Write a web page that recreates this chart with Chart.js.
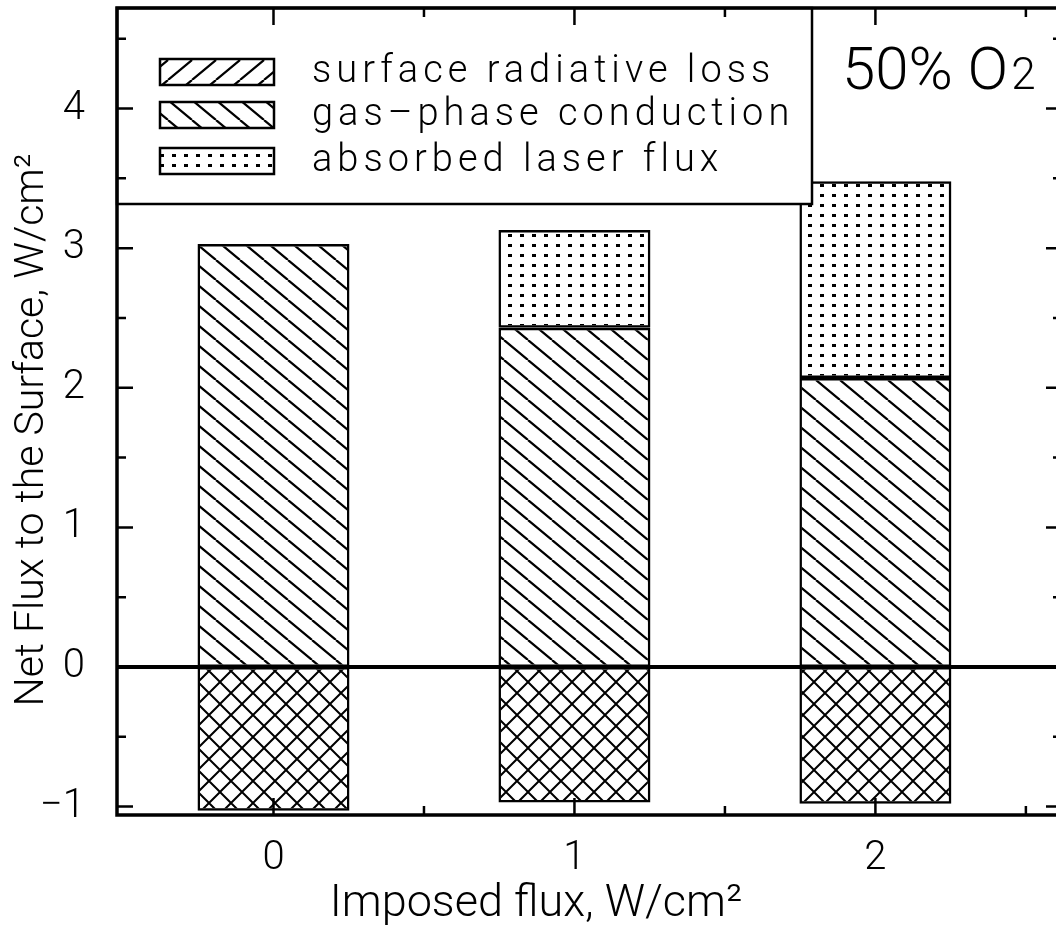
<!DOCTYPE html>
<html>
<head>
<meta charset="utf-8">
<script src="https://cdn.jsdelivr.net/npm/chart.js@4.4.1/dist/chart.umd.min.js"></script>
<style>
  html, body { margin: 0; padding: 0; background: #fff; overflow: hidden; }
  #wrap { width: 1062px; height: 930px; position: relative; }
</style>
</head>
<body>
<div id="wrap"><canvas id="fluxChart"></canvas></div>
<script>
  // values (W/cm2)
  const imposedFlux = [0, 1, 2];
  const gasConduction = [3.03, 2.43, 2.07];
  const laserAbsorbed = [0, 0.70, 1.41];
  const radiativeLoss = [-1.03, -0.97, -0.98];
  const xTickValues = [0, 1, 2];
  const yTickValues = [-1, 0, 1, 2, 3, 4];
  const seriesNames = ["surface radiative loss", "gas\u2013phase conduction", "absorbed laser flux"];

  const FONT = "Roboto, 'Liberation Sans', sans-serif";

  // hatch fills
  function hatch(kind) {
    const c = document.createElement("canvas");
    const g = c.getContext("2d");
    if (kind === "back") {          // "\\" lines
      c.width = 24; c.height = 20;
      g.strokeStyle = "#000"; g.lineWidth = 2.2;
      g.beginPath();
      for (const o of [-24, 0, 24]) { g.moveTo(o, 0); g.lineTo(o + 24, 20); }
      g.stroke();
    } else if (kind === "fwd") {    // "/" lines
      c.width = 24; c.height = 20;
      g.strokeStyle = "#000"; g.lineWidth = 2.2;
      g.beginPath();
      for (const o of [-24, 0, 24]) { g.moveTo(o, 20); g.lineTo(o + 24, 0); }
      g.stroke();
    } else if (kind === "cross") {
      c.width = 22; c.height = 22;
      g.strokeStyle = "#000"; g.lineWidth = 2;
      g.beginPath();
      for (const o of [-22, 0, 22]) {
        g.moveTo(o, 0); g.lineTo(o + 22, 22);
        g.moveTo(o, 22); g.lineTo(o + 22, 0);
      }
      g.stroke();
    } else {                         // dots
      c.width = 12; c.height = 10;
      g.fillStyle = "#000";
      g.fillRect(4, 4, 4, 3);
    }
    const ctx = document.createElement("canvas").getContext("2d");
    return ctx.createPattern(c, "repeat");
  }

  const fills = {
    back: hatch("back"),
    fwd: hatch("fwd"),
    cross: hatch("cross"),
    dots: hatch("dots")
  };

  const pts = arr => imposedFlux.map((x, i) => ({ x: x, y: arr[i] }));

  // frame, inner ticks, zero line, legend box and annotation
  const decorations = {
    id: "decorations",
    afterDatasetsDraw(chart) {
      const { ctx, chartArea: a, scales: { x, y } } = chart;
      ctx.save();

      // zero line
      ctx.strokeStyle = "#000";
      ctx.lineWidth = 4;
      ctx.beginPath();
      ctx.moveTo(a.left, y.getPixelForValue(0));
      ctx.lineTo(a.right, y.getPixelForValue(0));
      ctx.stroke();

      // legend box
      const lb = { l: a.left, t: a.top, r: 812, b: 204 };
      ctx.fillStyle = "#fff";
      ctx.fillRect(lb.l, lb.t, lb.r - lb.l, lb.b - lb.t);
      ctx.lineWidth = 2.5;
      ctx.strokeRect(lb.l, lb.t, lb.r - lb.l, lb.b - lb.t);

      const rows = [
        { fill: fills.fwd, cy: 72 },
        { fill: fills.back, cy: 115 },
        { fill: fills.dots, cy: 161 }
      ];
      ctx.font = "300 38px " + FONT;
      ctx.letterSpacing = "5px";
      ctx.textBaseline = "middle";
      ctx.textAlign = "left";
      rows.forEach((r, i) => {
        ctx.fillStyle = r.fill;
        ctx.fillRect(160, r.cy - 13, 114, 26);
        ctx.lineWidth = 2.5;
        ctx.strokeRect(160, r.cy - 13, 114, 26);
        ctx.fillStyle = "#000";
        ctx.fillText(seriesNames[i], 312, r.cy);
      });
      ctx.letterSpacing = "0px";

      // 50% O2
      ctx.textBaseline = "alphabetic";
      ctx.font = "300 60px " + FONT;
      ctx.fillText("50% O", 842, 89);
      const w = ctx.measureText("50% O").width;
      ctx.font = "300 44px " + FONT;
      ctx.fillText("2", 842 + w + 3, 89);

      // inner ticks on all sides
      ctx.lineWidth = 2.5;
      ctx.beginPath();
      for (let v = -1; v <= 4.5; v += 0.5) {
        const py = y.getPixelForValue(v);
        const len = Number.isInteger(v) ? 16 : 9;
        ctx.moveTo(a.left, py); ctx.lineTo(a.left + len, py);
        ctx.moveTo(a.right, py); ctx.lineTo(a.right - len, py);
      }
      for (let v = 0; v <= 2.5; v += 0.5) {
        const px = x.getPixelForValue(v);
        const len = Number.isInteger(v) ? 17 : 9;
        ctx.moveTo(px, a.bottom); ctx.lineTo(px, a.bottom - len);
        ctx.moveTo(px, a.top); ctx.lineTo(px, a.top + len);
      }
      ctx.stroke();

      // frame
      ctx.lineWidth = 3.5;
      ctx.strokeRect(a.left, a.top, a.right - a.left, a.bottom - a.top);

      // axis titles
      ctx.fillStyle = "#000";
      ctx.font = "300 45px " + FONT;
      ctx.textAlign = "center";
      ctx.textBaseline = "alphabetic";
      ctx.fillText("Imposed flux, W/cm\u00b2", 536, 916);

      ctx.save();
      ctx.translate(43, 430);
      ctx.rotate(-Math.PI / 2);
      ctx.font = "300 41px " + FONT;
      ctx.fillText("Net Flux to the Surface, W/cm\u00b2", 0, 0);
      ctx.restore();

      ctx.restore();
    }
  };

  new Chart(document.getElementById("fluxChart"), {
    type: "bar",
    data: {
      datasets: [
        {
          label: seriesNames[1],
          data: pts(gasConduction),
          backgroundColor: fills.back,
          borderColor: "#000",
          borderWidth: 2.5,
          borderSkipped: false
        },
        {
          label: seriesNames[2],
          data: pts(laserAbsorbed),
          backgroundColor: fills.dots,
          borderColor: "#000",
          borderWidth: 2.5,
          borderSkipped: false
        },
        {
          label: seriesNames[0],
          data: pts(radiativeLoss),
          backgroundColor: fills.cross,
          borderColor: "#000",
          borderWidth: 2.5,
          borderSkipped: false
        }
      ]
    },
    options: {
      responsive: true,
      maintainAspectRatio: false,
      animation: false,
      layout: { padding: { left: 0, top: 8, right: 0, bottom: 0 } },
      barPercentage: 1,
      categoryPercentage: 0.505,
      plugins: {
        legend: { display: false },
        tooltip: { enabled: false }
      },
      scales: {
        x: {
          type: "linear",
          min: -0.52,
          max: 2.62,
          offset: false,
          stacked: true,
          grid: { display: false, offset: false },
          border: { display: false },
          afterBuildTicks: s => { s.ticks = xTickValues.map(v => ({ value: v })); },
          afterFit: s => { s.height = 115; s.paddingLeft = 0; s.paddingRight = 0; },
          ticks: {
            color: "#000",
            padding: 12,
            maxRotation: 0,
            font: { family: FONT, size: 40, weight: "300" }
          }
        },
        y: {
          min: -1.06,
          max: 4.72,
          stacked: true,
          grid: { display: false },
          border: { display: false },
          afterBuildTicks: s => { s.ticks = yTickValues.map(v => ({ value: v })); },
          afterFit: s => { s.width = 117; s.paddingTop = 0; s.paddingBottom = 0; },
          ticks: {
            color: "#000",
            padding: 24,
            font: { family: FONT, size: 40, weight: "300" },
            callback: v => String(v).replace("-", "\u2212")
          }
        }
      }
    },
    plugins: [decorations]
  });
</script>
</body>
</html>
